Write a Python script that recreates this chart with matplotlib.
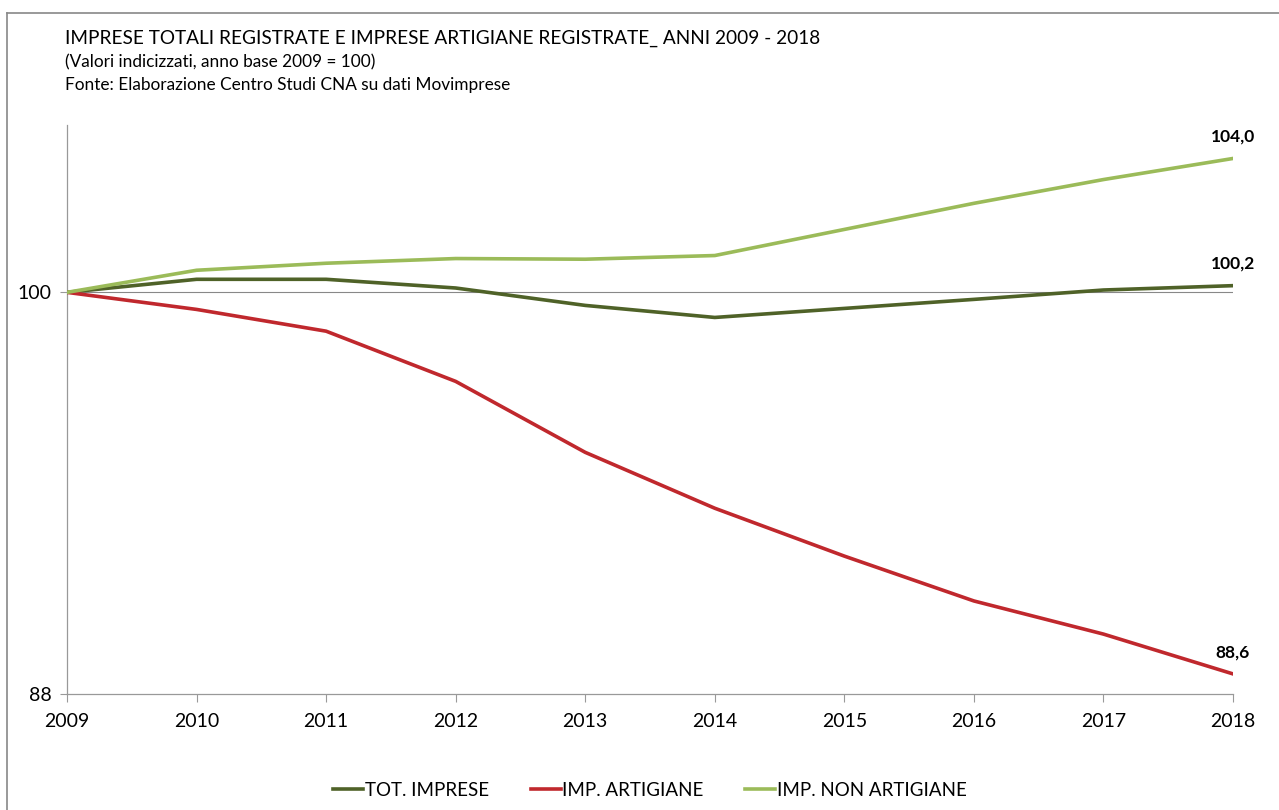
import matplotlib
matplotlib.use("Agg")
from matplotlib import pyplot as plt
from matplotlib.lines import Line2D

# data
anni = [2009, 2010, 2011, 2012, 2013, 2014, 2015, 2016, 2017, 2018]
tot_imprese = [100.0, 100.39, 100.39, 100.13, 99.61, 99.25, 99.52, 99.79, 100.07, 100.2]
imp_artigiane = [100.0, 99.49, 98.84, 97.34, 95.22, 93.55, 92.12, 90.78, 89.79, 88.6]
imp_non_artigiane = [100.0, 100.66, 100.87, 101.01, 100.99, 101.1, 101.88, 102.66, 103.37, 104.0]
etichette_finali = ["100,2", "88,6", "104,0"]

plt.rcParams['font.family'] = ['Lato', 'DejaVu Sans']

fig = plt.figure(figsize=(12.79, 8.10), dpi=100)
ax = fig.add_axes([67/1279, 1 - 694/810, (1233 - 67)/1279, (694 - 125)/810])

c_tot = '#4F6228'
c_art = '#C0282D'
c_non = '#9BBB59'

ax.axhline(100, color='#888888', lw=0.8, zorder=1)
ax.plot(anni, tot_imprese, color=c_tot, lw=2.6, label='TOT. IMPRESE', zorder=3)
ax.plot(anni, imp_artigiane, color=c_art, lw=2.6, label='IMP. ARTIGIANE', zorder=3)
ax.plot(anni, imp_non_artigiane, color=c_non, lw=2.6, label='IMP. NON ARTIGIANE', zorder=3)

# end labels
for serie, lab in zip([tot_imprese, imp_artigiane, imp_non_artigiane], etichette_finali):
    ax.annotate(lab, (anni[-1], serie[-1]), xytext=(0, 10), textcoords='offset points',
                ha='center', va='bottom', fontsize=12.5, fontweight='bold', color='black')

ax.set_xlim(2009, 2018)
ax.set_ylim(88, 105)
ax.set_xticks(anni)
ax.set_xticklabels([str(a) for a in anni], fontsize=14)
ax.set_yticks([88, 100])
ax.set_yticklabels(['88', '100'], fontsize=14)
ax.tick_params(axis='x', length=6, color='#999999', pad=8)
ax.tick_params(axis='y', length=5, color='#999999', pad=6)
for s in ['top', 'right']:
    ax.spines[s].set_visible(False)
for s in ['left', 'bottom']:
    ax.spines[s].set_color('#999999')
    ax.spines[s].set_linewidth(0.9)

# titles
fig.text(65/1279, 1 - 38/810, 'IMPRESE TOTALI REGISTRATE E IMPRESE ARTIGIANE REGISTRATE_ ANNI 2009 - 2018',
         fontsize=13.7, va='center', ha='left')
fig.text(65/1279, 1 - 62/810, '(Valori indicizzati, anno base 2009 = 100)', fontsize=12.4, va='center', ha='left')
fig.text(65/1279, 1 - 85/810, 'Fonte: Elaborazione Centro Studi CNA su dati Movimprese', fontsize=12.4,
         va='center', ha='left')

# legend
leg = fig.legend(loc='center', bbox_to_anchor=(650/1279, 1 - 790/810), ncol=3, frameon=False,
                 fontsize=13.5, handlelength=1.6, handletextpad=0.1, columnspacing=2.2)

# chart frame (top and left)
fig.add_artist(Line2D([7/1279, 1], [1 - 13/810, 1 - 13/810], color='#888888', lw=1.2))
fig.add_artist(Line2D([7/1279, 7/1279], [0, 1 - 13/810], color='#888888', lw=1.2))

fig.savefig('out.png', dpi=100)
